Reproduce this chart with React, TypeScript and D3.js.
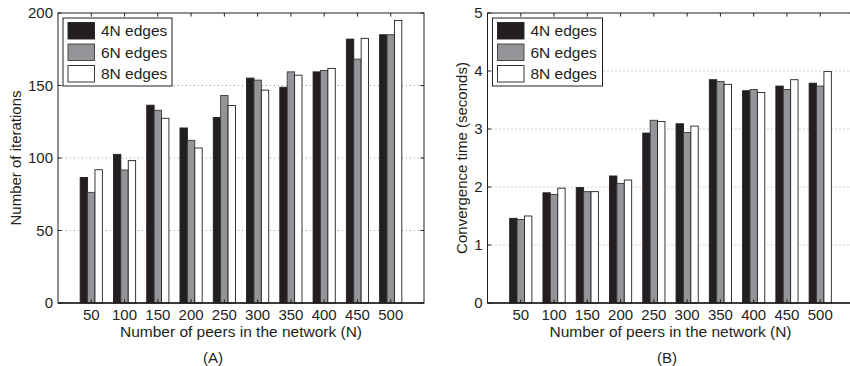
import React from 'react';
import * as d3 from 'd3';

// network sizes on the x axis
const peers = ['50', '100', '150', '200', '250', '300', '350', '400', '450', '500'];
const seriesNames = ['4N edges', '6N edges', '8N edges'];

// (A) number of iterations
const iter4N = [86.6, 102.5, 136.4, 120.7, 127.9, 155.1, 148.8, 159.4, 182.0, 185.0];
const iter6N = [76.3, 91.7, 132.9, 112.2, 143.1, 153.7, 159.4, 160.4, 168.2, 185.0];
const iter8N = [91.9, 98.2, 127.4, 106.9, 136.2, 146.8, 157.1, 161.8, 182.5, 194.9];
const iterTicks = [0, 50, 100, 150, 200];

// (B) convergence time in seconds
const time4N = [1.46, 1.90, 1.99, 2.19, 2.93, 3.09, 3.85, 3.66, 3.74, 3.79];
const time6N = [1.44, 1.87, 1.92, 2.06, 3.15, 2.94, 3.82, 3.68, 3.68, 3.74];
const time8N = [1.50, 1.98, 1.92, 2.12, 3.13, 3.05, 3.77, 3.63, 3.85, 3.99];
const timeTicks = [0, 1, 2, 3, 4, 5];

const fills = ['#231f20', '#939598', '#ffffff'];
const strokes = ['#231f20', '#3a3a3a', '#231f20'];
const ink = '#231f20';
const font = '"Liberation Sans", Arial, Helvetica, sans-serif';

const W = 366;
const H = 290;
const tickLen = 3.6;

const Panel = ({ left, series, ticks, yMax, yLabel, yLabelX, caption, captionX, legendW }) => {
    const x = d3.scaleLinear().domain([0, peers.length + 1]).range([0, W]);
    const y = d3.scaleLinear().domain([0, yMax]).range([H, 0]);
    const groupW = 2 / 3;
    const barW = groupW / series.length;

    return (
        <g transform={`translate(${left}, 13)`} fontFamily={font} fill={ink}>
            {/* dotted grid */}
            {ticks.filter((t) => t > 0 && t < yMax).map((t) => (
                <line key={'g' + t} x1={0} x2={W} y1={y(t)} y2={y(t)}
                    stroke="#9a9a9a" strokeWidth={1} strokeDasharray="1,3" />
            ))}

            {/* bars */}
            {series.map((vals, s) => vals.map((v, i) => {
                const x0 = i + 1 - groupW / 2 + s * barW;
                return (
                    <rect key={`b${s}-${i}`} x={x(x0)} y={y(v)}
                        width={x(barW) - x(0)} height={H - y(v)}
                        fill={fills[s]} stroke={strokes[s]} strokeWidth={0.9} />
                );
            }))}

            {/* axes box */}
            <rect x={0} y={0} width={W} height={H} fill="none" stroke={ink} strokeWidth={1} />
            <line x1={0} x2={W} y1={H} y2={H} stroke={ink} strokeWidth={1.4} />

            {/* x ticks (bottom and top) */}
            {peers.map((p, i) => (
                <g key={'x' + p}>
                    <line x1={x(i + 1)} x2={x(i + 1)} y1={H} y2={H - tickLen} stroke={ink} />
                    <line x1={x(i + 1)} x2={x(i + 1)} y1={0} y2={tickLen} stroke={ink} />
                    <text x={x(i + 1)} y={H + 16.5} textAnchor="middle" fontSize={15}>{p}</text>
                </g>
            ))}

            {/* y ticks (left and right) */}
            {ticks.map((t) => (
                <g key={'y' + t}>
                    <line x1={0} x2={tickLen} y1={y(t)} y2={y(t)} stroke={ink} />
                    <line x1={W} x2={W - tickLen} y1={y(t)} y2={y(t)} stroke={ink} />
                    <text x={-5} y={y(t)} dy="0.35em" textAnchor="end" fontSize={15}>{t}</text>
                </g>
            ))}

            <text x={W / 2} y={H + 34} textAnchor="middle" fontSize={15.5}>
                Number of peers in the network (N)
            </text>
            <text transform={`translate(${yLabelX}, ${H / 2}) rotate(-90)`} textAnchor="middle"
                dy="0.35em" fontSize={15}>
                {yLabel}
            </text>
            <text x={captionX} y={H + 60} textAnchor="middle" fontSize={15}>{caption}</text>

            {/* legend */}
            <g transform="translate(5, 5)">
                <rect x={0} y={0} width={legendW} height={68} fill="#fff" stroke={ink} strokeWidth={1} />
                {seriesNames.map((name, s) => (
                    <g key={name} transform={`translate(5, ${4.5 + s * 21.5})`}>
                        <rect x={0} y={0} width={26.5} height={16.5} fill={fills[s]} stroke={strokes[s]} strokeWidth={0.9} />
                        <text x={33} y={8.5} dy="0.35em" fontSize={15.5}>{name}</text>
                    </g>
                ))}
            </g>
        </g>
    );
};

export default function App() {
    return (
        <svg width={850} height={366} style={{ position: 'absolute', left: 0, top: 0, background: '#fff' }}>
            <rect width={850} height={366} fill="#fff" />
            <Panel left={58} series={[iter4N, iter6N, iter8N]} ticks={iterTicks} yMax={200}
                yLabel="Number of iterations" yLabelX={-42} caption="(A)" captionX={155} legendW={109} />
            <Panel left={487.5} series={[time4N, time6N, time8N]} ticks={timeTicks} yMax={5}
                yLabel="Convergence time (seconds)" yLabelX={-25.5} caption="(B)" captionX={179.5} legendW={110} />
        </svg>
    );
}
